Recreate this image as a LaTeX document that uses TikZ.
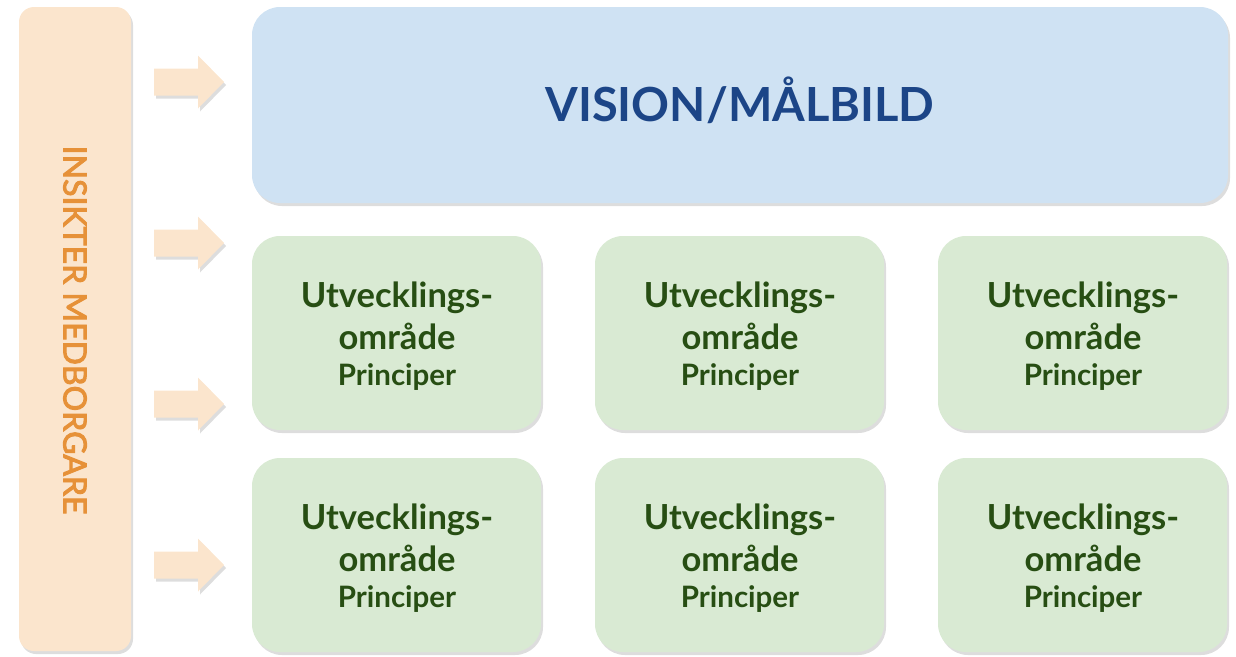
\documentclass[tikz,border=0pt]{standalone}
\usepackage{fontspec}
\setmainfont{Lato}
\newfontfamily\latomedium{Lato}[FakeBold=3]
\usetikzlibrary{shadows,positioning}
\definecolor{peach}{HTML}{FBE5CD}
\definecolor{peachtext}{HTML}{E69138}
\definecolor{bluefill}{HTML}{CFE2F3}
\definecolor{bluetext}{HTML}{1C4587}
\definecolor{greenfill}{HTML}{D9EAD3}
\definecolor{greentext}{HTML}{274E13}
\tikzset{
  softshadow/.style={drop shadow={shadow xshift=2pt,shadow yshift=-3pt,opacity=0.22,fill=black!60}},
  sidebar/.style={fill=peach,rounded corners=15pt,softshadow,draw=none},
  visionbox/.style={fill=bluefill,rounded corners=28pt,softshadow,draw=none},
  areabox/.style={fill=greenfill,rounded corners=28pt,softshadow,draw=none},
  inarrow/.style={fill=peach,draw=none,softshadow},
  bigline/.style={text=greentext,font=\bfseries\fontsize{34.5}{40}\selectfont,anchor=base,inner sep=0pt},
  smallline/.style={text=greentext,font=\bfseries\fontsize{29.5}{34}\selectfont,anchor=base,inner sep=0pt},
}
\begin{document}
\begin{tikzpicture}[x=1pt,y=-1pt]
\useasboundingbox (0,0) rectangle (1236,656);
% side bar
\path[sidebar] (19,7) rectangle (131,651);
\node[text=peachtext,rotate=-90,font=\latomedium\fontsize{32}{38}\selectfont] (insikt) at (75,330) {INSIKTER MEDBORGARE};
% arrows
\foreach \cy [count=\i] in {82,243,404,565}{
  \path[inarrow] (154,\cy-13.5) -- (198,\cy-13.5) -- (198,\cy-26.5) -- (224,\cy) -- (198,\cy+26.5) -- (198,\cy+13.5) -- (154,\cy+13.5) -- cycle;
}
% vision
\path[visionbox] (252,7) rectangle (1228,203);
\node[text=bluetext,font=\bfseries\fontsize{47}{56}\selectfont] (vision) at (740,100) {VISION/MÅLBILD};
% area boxes
\foreach \bx [count=\j] in {252,595,938}{
  \foreach \by [count=\i] in {236,458}{
    \path[areabox] (\bx,\by) rectangle ++(289,194);
    \node[bigline] (utv\i\j) at (\bx+145,\by+71) {Utvecklings-};
    \node[bigline] (omr\i\j) at (\bx+145,\by+113) {område};
    \node[smallline] (pri\i\j) at (\bx+145,\by+149) {Principer};
  }
}
\end{tikzpicture}
\end{document}
